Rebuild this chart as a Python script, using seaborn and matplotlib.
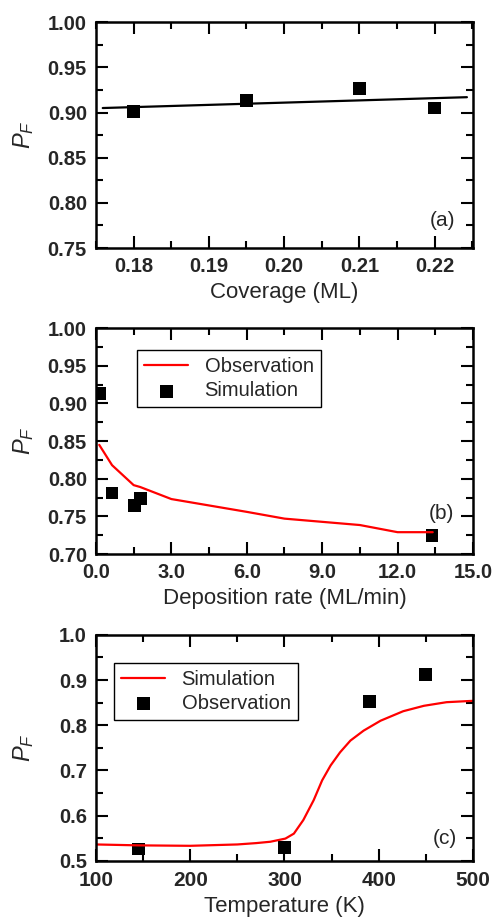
import matplotlib
matplotlib.use("Agg")
import matplotlib.pyplot as plt
from matplotlib.ticker import MultipleLocator, FormatStrFormatter
import seaborn as sns
import pandas as pd

# panel (a): coverage
cov_x = [0.18, 0.195, 0.21, 0.22]
cov_y = [0.901, 0.913, 0.927, 0.905]
cov_fit_x = [0.1759, 0.2243]
cov_fit_y = [0.905, 0.917]

# panel (b): deposition rate
rate_obs_x = [0.13, 0.64, 1.5, 1.76, 3.0, 6.0, 7.5, 10.5, 12.0, 13.4]
rate_obs_y = [0.845, 0.818, 0.7915, 0.789, 0.773, 0.756, 0.747, 0.7385, 0.729, 0.729]
rate_sim_x = [0.15, 0.64, 1.53, 1.78, 13.37]
rate_sim_y = [0.913, 0.781, 0.764, 0.774, 0.725]

# panel (c): temperature
temp_sim_x = [100, 145, 200, 250, 270, 285, 301, 310, 320, 331, 340, 349, 359, 370,
              384, 402, 426, 448, 472, 500]
temp_sim_y = [0.536, 0.534, 0.533, 0.536, 0.539, 0.542, 0.549, 0.560, 0.590, 0.634,
              0.678, 0.711, 0.740, 0.766, 0.788, 0.810, 0.831, 0.843, 0.851, 0.854]
temp_obs_x = [145, 300, 390, 450]
temp_obs_y = [0.526, 0.530, 0.853, 0.912]

sns.set_style("ticks")
plt.rcParams['font.family'] = ['Liberation Sans', 'DejaVu Sans']
plt.rcParams['mathtext.fontset'] = 'custom'
plt.rcParams['mathtext.it'] = 'Liberation Sans:italic'
plt.rcParams['mathtext.rm'] = 'Liberation Sans'

fig = plt.figure(figsize=(4.96, 9.18), dpi=100)
L, W, H = 0.1935, 0.760, 0.246
ax_a = fig.add_axes([L, 0.7298, W, H])
ax_b = fig.add_axes([L, 0.3965, W, H])
ax_c = fig.add_axes([L, 0.0624, W, H])


def style(ax, xlab, xmaj, xmin, xfmt, ymaj, ymin, yfmt):
    for s in ax.spines.values():
        s.set_linewidth(1.8)
        s.set_color('black')
    ax.xaxis.set_major_locator(MultipleLocator(xmaj))
    ax.xaxis.set_minor_locator(MultipleLocator(xmin))
    ax.yaxis.set_major_locator(MultipleLocator(ymaj))
    ax.yaxis.set_minor_locator(MultipleLocator(ymin))
    ax.xaxis.set_major_formatter(FormatStrFormatter(xfmt))
    ax.yaxis.set_major_formatter(FormatStrFormatter(yfmt))
    ax.tick_params(which='both', direction='in', top=True, right=True, width=1.5, color='black')
    ax.tick_params(which='major', length=8.5, labelsize=14.5, pad=6.5)
    ax.tick_params(which='minor', length=4.8)
    for lab in ax.get_xticklabels() + ax.get_yticklabels():
        lab.set_fontweight('bold')
    ax.set_xlabel(xlab, fontsize=16, labelpad=4)
    ax.set_ylabel(r'$P_F$', fontsize=17)
    ax.yaxis.set_label_coords(-0.158, 0.5)


# (a)
sns.lineplot(x=cov_fit_x, y=cov_fit_y, ax=ax_a, color='black', linewidth=1.6)
sns.scatterplot(x=cov_x, y=cov_y, ax=ax_a, marker='s', s=85, color='black', edgecolor='none')
ax_a.set_xlim(0.175, 0.2251)
ax_a.set_ylim(0.75, 1.00)
style(ax_a, 'Coverage (ML)', 0.01, 0.005, '%.2f', 0.05, 0.025, '%.2f')
ax_a.text(0.92, 0.124, '(a)', transform=ax_a.transAxes, fontsize=15, ha='center', va='center')

# (b)
df_b = pd.DataFrame({'rate': rate_obs_x, 'pf': rate_obs_y})
sns.lineplot(data=df_b, x='rate', y='pf', ax=ax_b, color='red', linewidth=1.6, label='Observation')
sns.scatterplot(x=rate_sim_x, y=rate_sim_y, ax=ax_b, marker='s', s=85, color='black',
                edgecolor='none', label='Simulation')
ax_b.set_xlim(0, 15)
ax_b.set_ylim(0.70, 1.00)
style(ax_b, 'Deposition rate (ML/min)', 3.0, 1.5, '%.1f', 0.05, 0.025, '%.2f')
ax_b.text(0.917, 0.18, '(b)', transform=ax_b.transAxes, fontsize=15, ha='center', va='center')
leg = ax_b.legend(loc='upper left', bbox_to_anchor=(0.109, 0.902), borderaxespad=0,
                  fontsize=14.5, frameon=True, fancybox=False, framealpha=1,
                  edgecolor='black', handlelength=2.2, borderpad=0.35, labelspacing=0.25)
leg.get_frame().set_linewidth(1.0)

# (c)
df_c = pd.DataFrame({'T': temp_sim_x, 'pf': temp_sim_y})
sns.lineplot(data=df_c, x='T', y='pf', ax=ax_c, color='red', linewidth=1.6, label='Simulation')
sns.scatterplot(x=temp_obs_x, y=temp_obs_y, ax=ax_c, marker='s', s=85, color='black',
                edgecolor='none', label='Observation')
ax_c.set_xlim(100, 500)
ax_c.set_ylim(0.5, 1.0)
style(ax_c, 'Temperature (K)', 100, 50, '%d', 0.1, 0.05, '%.1f')
ax_c.tick_params(axis='x', which='major', labelsize=15, pad=7.5)
ax_c.text(0.926, 0.097, '(c)', transform=ax_c.transAxes, fontsize=15, ha='center', va='center')
leg = ax_c.legend(loc='upper left', bbox_to_anchor=(0.048, 0.876), borderaxespad=0,
                  fontsize=14.5, frameon=True, fancybox=False, framealpha=1,
                  edgecolor='black', handlelength=2.2, borderpad=0.35, labelspacing=0.25)
leg.get_frame().set_linewidth(1.0)

fig.savefig('out.png', dpi=100)
